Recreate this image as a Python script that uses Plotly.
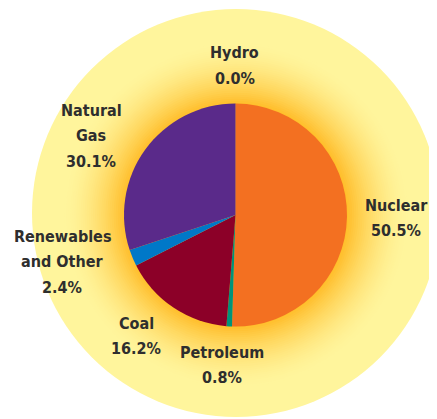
import plotly.graph_objects as go
import numpy as np

# ---- data ----
labels = ["Nuclear", "Petroleum", "Coal", "Renewables and Other", "Natural Gas", "Hydro"]
values = [50.5, 0.8, 16.2, 2.4, 30.1, 0.0]
label_lines = {
    "Nuclear": ["Nuclear"],
    "Petroleum": ["Petroleum"],
    "Coal": ["Coal"],
    "Renewables and Other": ["Renewables", "and Other"],
    "Natural Gas": ["Natural", "Gas"],
    "Hydro": ["Hydro"],
}
colors = ["#F37021", "#00937A", "#8C0028", "#0078C8", "#5A2A8A", "#7A6A50"]

# page body has an 8px margin; figure sized to fill the rest of the window
OFF = 8
W, H = 437 - OFF, 419 - OFF
def px(x):
    return (x - OFF) / W
def py(y):
    return 1 - (y - OFF) / H

fig = go.Figure()

fig.add_trace(go.Pie(
    labels=labels, values=values, sort=False, direction="clockwise", rotation=0,
    marker=dict(colors=colors, line=dict(width=0)),
    textinfo="none", hoverinfo="label+percent", showlegend=False,
    domain=dict(x=[px(124), px(347)], y=[py(327), py(103)]),
))

# ---- background glow (decoration) ----
cx, cy = 236, 213
shapes = [dict(type="circle", xref="paper", yref="paper",
               x0=px(cx - 204), x1=px(cx + 204), y0=py(cy + 204), y1=py(cy - 204),
               fillcolor="#FFF59C", line=dict(width=0), layer="below")]
c_out = np.array([0xFF, 0xF5, 0x9C])
c_in = np.array([0xFF, 0xBE, 0x2A])
n = 30
for i in range(n):
    t = i / (n - 1)
    r = 172 - t * (172 - 112)
    w = t ** 1.6
    c = (c_out * (1 - w) + c_in * w).astype(int)
    shapes.append(dict(type="circle", xref="paper", yref="paper",
                       x0=px(236 - r), x1=px(236 + r), y0=py(215 + r), y1=py(215 - r),
                       fillcolor="rgb(%d,%d,%d)" % tuple(c), line=dict(width=0), layer="below"))

# ---- labels (positions in pixels of the first line) ----
label_pos = {
    "Hydro": (235, 53),
    "Natural Gas": (91, 110),
    "Nuclear": (396, 205),
    "Renewables and Other": (62, 236),
    "Coal": (136, 323),
    "Petroleum": (222, 352),
}
annotations = []
for lab, val in zip(labels, values):
    lines = label_lines[lab] + ["%.1f%%" % val]
    x0, y0 = label_pos[lab]
    for k, ln in enumerate(lines):
        annotations.append(dict(
            text=ln, x=px(x0), y=py(y0 + k * 25.5), xref="paper", yref="paper",
            xanchor="center", yanchor="middle", showarrow=False,
            font=dict(family="DejaVu Sans Condensed", size=16, color="#2E2E2E", weight="bold"),
        ))

fig.update_layout(
    width=W, height=H, margin=dict(l=0, r=0, t=0, b=0),
    paper_bgcolor="white", plot_bgcolor="white",
    shapes=shapes, annotations=annotations,
)

fig.write_html("out.html")
